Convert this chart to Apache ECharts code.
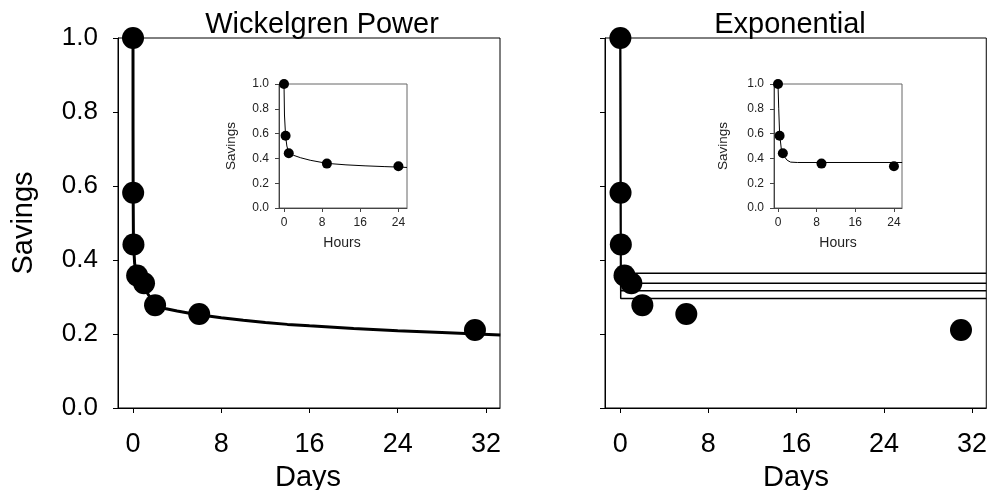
<!DOCTYPE html>
<html>
<head>
<meta charset="utf-8">
<script src="https://cdn.jsdelivr.net/npm/echarts@6/dist/echarts.min.js"></script>
<style>
  html, body { margin: 0; padding: 0; background: #fff; }
  #chart { width: 990px; height: 490px; }
</style>
</head>
<body>
<div id="chart"></div>
<script>
// observed savings, days since learning
const obsDays = [0, 0.014, 0.042, 0.375, 1, 2, 6, 31];
const obsSavings = [1.0, 0.582, 0.442, 0.358, 0.337, 0.278, 0.254, 0.211];

// same data, first day only (hours)
const obsHours = [0, 0.33, 1, 9, 24];
const obsHoursSavings = [1.0, 0.582, 0.442, 0.358, 0.337];

// Wickelgren power fit
const powerDays = [0, 0.004, 0.014, 0.042, 0.15, 0.375, 1, 2, 3, 4, 5, 6, 7, 8, 10, 12, 14, 16, 20, 24, 28, 33.3];
const powerDaysFit = [1.0, 0.75, 0.58, 0.445, 0.39, 0.36, 0.325, 0.277, 0.268, 0.262, 0.257, 0.252, 0.248, 0.244, 0.237, 0.231, 0.226, 0.222, 0.215, 0.209, 0.204, 0.197];
const powerHours = [0, 0.1, 0.33, 0.6, 1, 2, 3.5, 5.5, 9, 13, 17, 21, 24, 25.8];
const powerHoursFit = [1.0, 0.75, 0.58, 0.5, 0.445, 0.425, 0.405, 0.385, 0.36, 0.348, 0.34, 0.334, 0.33, 0.327];

// exponential fits: the day panel shows four flat curves
const expLevels = [0.364, 0.337, 0.317, 0.296];
const expDropDay = 0.03;
const expHours = [0, 0.15, 0.33, 0.7, 1.2, 1.9, 2.6, 4, 25.7];
const expHoursFit = [1.0, 0.8, 0.6, 0.47, 0.42, 0.385, 0.37, 0.367, 0.367];

const dayTicks = [0, 8, 16, 24, 32];
const hourTicks = [0, 8, 16, 24];

const FONT = 'Liberation Sans, Arial, sans-serif';
const zip = (xs, ys) => xs.map((x, i) => [x, ys[i]]);

const chart = echarts.init(document.getElementById('chart'), null, { renderer: 'canvas' });

const grids = [
  { left: 118, top: 38, width: 382, height: 370 },  // power, days
  { left: 279, top: 84, width: 128, height: 124 },  // power, hours
  { left: 605, top: 38, width: 382, height: 370 },  // exponential, days
  { left: 774, top: 84, width: 128, height: 124 }   // exponential, hours
].map((g, i) => Object.assign({
  show: true,
  backgroundColor: '#fff',
  borderColor: i % 2 ? '#666' : '#000',
  borderWidth: 1,
  containLabel: false
}, g));

function xAxis(grid, min, max, ticks, inset) {
  return {
    type: 'value', gridIndex: grid, min: min, max: max,
    axisLine: { show: true, onZero: false, lineStyle: { color: inset ? '#444' : '#000', width: 1 } },
    axisTick: { show: true, customValues: ticks, length: inset ? 4 : 5, lineStyle: { color: inset ? '#444' : '#000' } },
    axisLabel: { show: true, customValues: ticks, margin: inset ? 9 : 23, color: inset ? '#222' : '#000',
      fontSize: inset ? 12 : 27, fontFamily: FONT },
    splitLine: { show: false }
  };
}

function yAxis(grid, inset, labels) {
  return {
    type: 'value', gridIndex: grid, min: 0, max: 1, interval: 0.2,
    axisLine: { show: true, onZero: false, lineStyle: { color: inset ? '#444' : '#000', width: 1 } },
    axisTick: { show: true, length: inset ? 4 : 5, lineStyle: { color: inset ? '#444' : '#000' } },
    axisLabel: { show: labels, margin: inset ? 10 : 20, color: inset ? '#222' : '#000',
      fontSize: inset ? 12 : 26, fontFamily: FONT, formatter: (v) => v.toFixed(1) },
    splitLine: { show: false }
  };
}

function line(axis, data, width) {
  return {
    type: 'line', xAxisIndex: axis, yAxisIndex: axis, data: data,
    showSymbol: false, symbol: 'none', smooth: false, clip: true,
    lineStyle: { color: '#000', width: width }, z: 2
  };
}

function dots(axis, data, size) {
  return {
    type: 'scatter', xAxisIndex: axis, yAxisIndex: axis, data: data,
    symbol: 'circle', symbolSize: size,
    itemStyle: { color: '#000', opacity: 1 }, z: 5
  };
}

const series = [
  line(0, zip(powerDays, powerDaysFit), 3),
  dots(0, zip(obsDays, obsSavings), 22),
  line(1, zip(powerHours, powerHoursFit), 1),
  dots(1, zip(obsHours, obsHoursSavings), 10),
  line(3, zip(expHours, expHoursFit), 1),
  dots(3, zip(obsHours, obsHoursSavings), 10),
  dots(2, zip(obsDays, obsSavings), 22)
];
expLevels.forEach((lvl) => {
  series.push(line(2, [[0, 1.0], [expDropDay, lvl], [33.3, lvl]], 1.5));
});

function text(x, y, str, size, rot, color) {
  return {
    type: 'text', x: x, y: y, rotation: rot || 0, silent: true, z: 10,
    style: { text: str, fontSize: size, fontFamily: FONT, fill: color || '#000',
      align: 'center', verticalAlign: 'middle' }
  };
}

chart.setOption({
  animation: false,
  backgroundColor: '#fff',
  grid: grids,
  xAxis: [
    xAxis(0, -1.36, 33.27, dayTicks, false),
    xAxis(1, -1.05, 25.8, hourTicks, true),
    xAxis(2, -1.4, 33.3, dayTicks, false),
    xAxis(3, -0.83, 25.67, hourTicks, true)
  ],
  yAxis: [
    yAxis(0, false, true),
    yAxis(1, true, true),
    yAxis(2, false, false),
    yAxis(3, true, true)
  ],
  series: series,
  graphic: [
    text(322, 25, 'Wickelgren Power', 29),
    text(790, 25, 'Exponential', 29),
    text(308, 478, 'Days', 29),
    text(796, 478, 'Days', 29),
    text(24, 223, 'Savings', 29, Math.PI / 2),
    text(342, 243, 'Hours', 14, 0, '#222'),
    text(838, 243, 'Hours', 14, 0, '#222'),
    text(231, 146, 'Savings', 13.5, Math.PI / 2, '#222'),
    text(723, 146, 'Savings', 13.5, Math.PI / 2, '#222')
  ]
});
</script>
</body>
</html>
